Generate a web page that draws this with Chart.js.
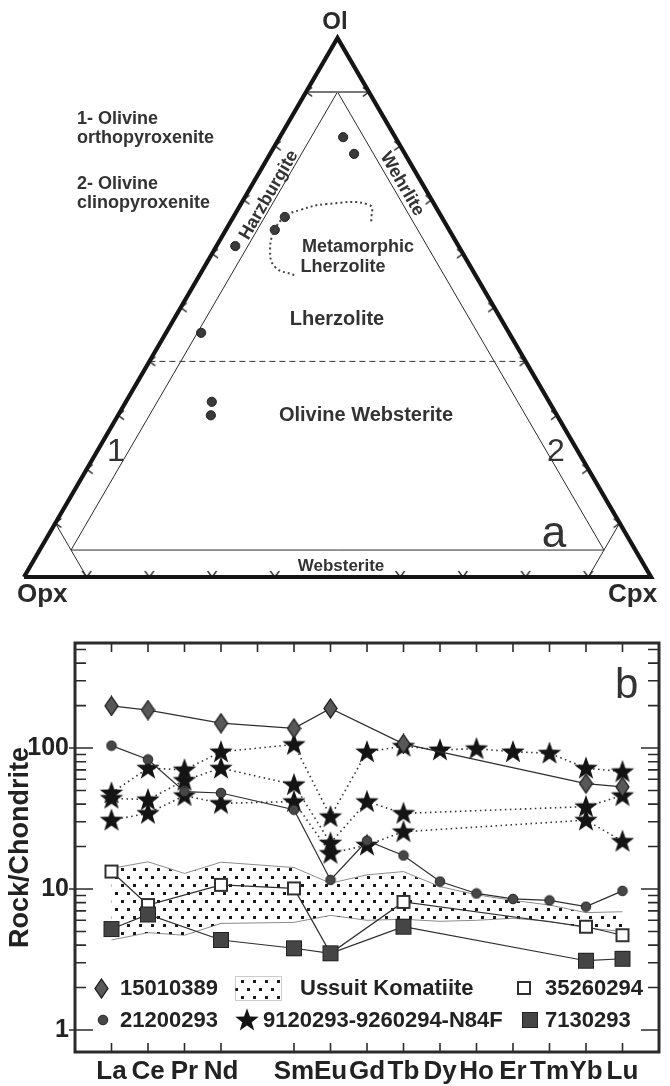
<!DOCTYPE html>
<html>
<head>
<meta charset="utf-8">
<title>Ol-Opx-Cpx and REE patterns</title>
<script src="https://cdn.jsdelivr.net/npm/chart.js@4.4.1/dist/chart.umd.min.js"></script>
<style>
  html, body { margin: 0; padding: 0; background: #fff; }
  #wrap { position: relative; width: 670px; height: 1086px; }
  #ternary { position: absolute; left: 0; top: 0; }
  #ree { position: absolute; left: 0; top: 610px; }
</style>
</head>
<body>
<div id="wrap">
  <canvas id="ternary" width="670" height="610"></canvas>
  <canvas id="ree" width="670" height="476"></canvas>
</div>
<script>
const FONT = "'Liberation Sans', Arial, Helvetica, sans-serif";
Chart.defaults.font.family = FONT;
Chart.defaults.color = '#222';

// ---- ternary (a): modal % Ol and Cpx, Opx is the rest ----
const sampleOl  = [81.6, 78.5, 66.8, 64.4, 61.4, 45.3, 32.5, 30.0];
const sampleCpx = [10.1, 13.4, 8.2, 7.8, 3.0, 5.6, 13.7, 14.8];
const metaLherzOl  = [66.0, 69.0, 69.2, 68.1, 66.8, 64.4, 60.7, 57.5, 56.0];
const metaLherzCpx = [22.4, 20.6, 13.7, 10.0, 8.2, 7.8, 8.9, 11.3, 15.1];
const sideTicks = [10, 20, 30, 40, 50, 60, 70, 80, 90];
const baseTicks = [10, 20, 30, 40, 60, 70, 80, 90];
// boundaries as [Ol, Cpx] pairs
const outline = [[0, 0], [0, 100], [100, 0], [0, 0]];
const duniteLine = [[90, 0], [90, 10]];
const fieldLines = [
  [[90, 5], [5, 5]],
  [[90, 5], [5, 90]],
  [[5, 5], [5, 90]],
  [[10, 0], [0, 10]],
  [[10, 90], [0, 90]]
];
const ol40Line = [[40, 0], [40, 60]];

// ---- REE (b): rock / chondrite ----
const elements   = ['La', 'Ce', 'Pr', 'Nd', 'Pm', 'Sm', 'Eu', 'Gd', 'Tb', 'Dy', 'Ho', 'Er', 'Tm', 'Yb', 'Lu'];
const tickLabels = ['La', 'Ce', 'Pr', 'Nd', '', 'Sm', 'Eu', 'Gd', 'Tb', 'Dy', 'Ho', 'Er', 'Tm', 'Yb', 'Lu'];
const yTickLabels = [1, 10, 100];
const s15010389 = [199, 186, null, 150, null, 138, 191, null, 107, null, null, null, null, 56, 53];
const s21200293 = [104, 83, 49, 48, null, 36.5, 11.6, 22, 17.3, 11.3, 9.3, 8.5, 8.3, 7.5, 9.7];
const s9120293  = [48, 72, 70, 94, null, 106, 32.6, 94, 103, 97, 99, 94, 92, 72, 68];
const s9260294  = [44, 43, 59, 72, null, 55, 21.2, 41.7, 34.4, null, null, null, null, 38.4, 46];
const sN84F     = [30.8, 34.4, 46, 40.5, null, 41.7, 17.9, 20.5, 25.5, null, null, null, null, 30.8, 21.8];
const s35260294 = [13.3, 7.7, null, 10.7, null, 10.1, 3.5, null, 8.1, null, null, null, null, 5.4, 4.7];
const s7130293  = [5.2, 6.6, null, 4.35, null, 3.8, 3.5, null, 5.4, null, null, null, null, 3.1, 3.2];
const komUpper  = [14.0, 15.6, 12.9, 15.5, null, 14.2, 11.0, 12.6, 13.3, 10.4, 9.1, 8.3, 7.7, 6.8, 6.9];
const komLower  = [4.35, 4.9, 4.7, 5.7, null, 5.8, 6.5, 6.0, 6.1, 5.9, 6.0, 6.2, 5.9, 5.3, 5.0];
const legendNames = ['15010389', 'Ussuit Komatiite', '35260294', '21200293', '9120293-9260294-N84F', '7130293'];

// ---- marker images ----
function marker(w, h, paint) {
  const c = document.createElement('canvas');
  c.width = w;
  c.height = h;
  paint(c.getContext('2d'), w, h);
  return c;
}

const diamondImg = marker(15, 21, (g, w, h) => {
  g.beginPath();
  g.moveTo(w / 2, 1); g.lineTo(w - 1, h / 2); g.lineTo(w / 2, h - 1); g.lineTo(1, h / 2);
  g.closePath();
  g.fillStyle = '#585858'; g.fill();
  g.lineWidth = 1.3; g.strokeStyle = '#1c1c1c'; g.stroke();
});
const circleImg = marker(12, 12, (g) => {
  g.beginPath(); g.arc(6, 6, 4.8, 0, Math.PI * 2);
  g.fillStyle = '#474747'; g.fill();
  g.lineWidth = 1; g.strokeStyle = '#222'; g.stroke();
});
const starImg = marker(26, 26, (g) => {
  g.beginPath();
  for (let i = 0; i < 10; i++) {
    const r = i % 2 ? 5 : 12.3;
    const a = -Math.PI / 2 + i * Math.PI / 5;
    const px = 13 + r * Math.cos(a), py = 13.6 + r * Math.sin(a);
    if (i) g.lineTo(px, py); else g.moveTo(px, py);
  }
  g.closePath();
  g.fillStyle = '#141414'; g.fill();
});
const openSquareImg = marker(16, 16, (g) => {
  g.fillStyle = '#fff'; g.fillRect(1, 1, 14, 14);
  g.lineWidth = 2; g.strokeStyle = '#303030'; g.strokeRect(2, 2, 12, 12);
});
const filledSquareImg = marker(18, 18, (g) => {
  g.fillStyle = '#454545'; g.fillRect(1, 1, 16, 16);
  g.lineWidth = 1; g.strokeStyle = '#222'; g.strokeRect(1.5, 1.5, 15, 15);
});
const chevronImg = marker(18, 12, (g) => {
  g.beginPath(); g.moveTo(3, 1.5); g.lineTo(9, 6); g.lineTo(3, 10.5);
  g.lineWidth = 1.5; g.strokeStyle = '#1e1e1e'; g.stroke();
});
const dotTile = marker(12, 16, (g) => {
  g.fillStyle = '#1a1a1a';
  g.fillRect(1, 2, 3, 3);
  g.fillRect(7, 10, 3, 3);
});
const dotPattern = document.getElementById('ree').getContext('2d').createPattern(dotTile, 'repeat');

// ---- ternary chart ----
const tern = ([ol, cpx]) => ({ x: (cpx + ol / 2) / 100, y: ol / 100 });
const lineSet = (pairs, color, width, extra) => Object.assign({
  data: pairs.map(tern), showLine: true, pointRadius: 0, borderColor: color, borderWidth: width, clip: false
}, extra || {});

const ternaryText = {
  id: 'ternaryText',
  afterDraw(chart) {
    const { ctx } = chart;
    const put = (txt, x, y, font, align, rot) => {
      ctx.save();
      ctx.font = font;
      ctx.textAlign = align || 'center';
      ctx.textBaseline = 'middle';
      ctx.translate(x, y);
      if (rot) ctx.rotate(rot * Math.PI / 180);
      ctx.fillText(txt, 0, 0);
      ctx.restore();
    };
    ctx.save();
    ctx.fillStyle = '#2a2a2a';
    put('Ol', 335, 22, 'bold 24px ' + FONT);
    put('Opx', 17, 595, 'bold 26px ' + FONT, 'left');
    put('Cpx', 608, 595, 'bold 26px ' + FONT, 'left');
    ctx.fillStyle = '#333';
    put('1- Olivine', 77, 119, 'bold 18px ' + FONT, 'left');
    put('orthopyroxenite', 77, 138, 'bold 18px ' + FONT, 'left');
    put('2- Olivine', 77, 184, 'bold 18px ' + FONT, 'left');
    put('clinopyroxenite', 77, 203, 'bold 18px ' + FONT, 'left');
    put('Harzburgite', 269, 195, 'bold 18px ' + FONT, 'center', -59.9);
    put('Wehrlite', 402, 184, 'bold 18px ' + FONT, 'center', 59.9);
    put('Metamorphic', 358, 247, 'bold 18px ' + FONT);
    put('Lherzolite', 343, 267, 'bold 18px ' + FONT);
    put('Lherzolite', 337, 319, 'bold 20px ' + FONT);
    put('Olivine Websterite', 366, 415, 'bold 20px ' + FONT);
    put('Websterite', 341, 566, 'bold 17px ' + FONT);
    put('1', 116, 452, '32px ' + FONT);
    put('2', 556, 452, '32px ' + FONT);
    put('a', 554, 535, '44px ' + FONT);
    ctx.restore();
  }
};

new Chart(document.getElementById('ternary'), {
  type: 'scatter',
  data: {
    datasets: [
      lineSet(outline, '#151515', 4.2, { borderJoinStyle: 'miter' }),
      lineSet(duniteLine, '#777', 2),
      ...fieldLines.map(l => lineSet(l, '#2a2a2a', 1)),
      lineSet(ol40Line, '#333', 1, { borderDash: [6, 4] }),
      {
        data: metaLherzOl.map((o, i) => tern([o, metaLherzCpx[i]])),
        showLine: true, pointRadius: 0, borderColor: '#444', borderWidth: 2,
        borderDash: [2, 3], tension: 0.45, clip: false
      },
      {
        data: sideTicks.map(o => tern([o, 0])),
        pointStyle: chevronImg, pointRadius: 5, rotation: 180, clip: false
      },
      {
        data: sideTicks.map(o => tern([o, 100 - o])),
        pointStyle: chevronImg, pointRadius: 5, rotation: 0, clip: false
      },
      {
        data: baseTicks.map(c => tern([0, c])),
        pointStyle: chevronImg, pointRadius: 5, rotation: 90, clip: false
      },
      {
        data: sampleOl.map((o, i) => tern([o, sampleCpx[i]])),
        pointRadius: 4.6, backgroundColor: '#3a3a3a', borderColor: '#222', borderWidth: 1, clip: false
      }
    ]
  },
  options: {
    responsive: false,
    animation: false,
    events: [],
    layout: { padding: { left: 24, right: 19, top: 38, bottom: 33 } },
    plugins: { legend: { display: false }, tooltip: { enabled: false } },
    scales: {
      x: { type: 'linear', min: 0, max: 1, display: false },
      y: { type: 'linear', min: 0, max: 1, display: false }
    }
  },
  plugins: [ternaryText]
});

// ---- REE chart ----
const pts = arr => arr.map((v, i) => ({ x: i, y: v })).filter(p => p.y !== null);

const frameTicks = {
  id: 'frameTicks',
  afterDraw(chart) {
    const { ctx, chartArea: { left, right, top, bottom }, scales: { x, y } } = chart;
    ctx.save();
    ctx.strokeStyle = '#2b2b2b';
    ctx.lineWidth = 1.6;
    ctx.beginPath();
    x.ticks.forEach(t => {
      const px = x.getPixelForValue(t.value);
      ctx.moveTo(px, top); ctx.lineTo(px, top + 9);
      if (tickLabels[t.value]) { ctx.moveTo(px, bottom); ctx.lineTo(px, bottom - 9); }
    });
    y.ticks.forEach(t => {
      const v = t.value;
      if (v < 1) return;
      const m = v / Math.pow(10, Math.floor(Math.log10(v) + 1e-9));
      if (Math.abs(m - Math.round(m)) > 1e-6) return;
      const major = Math.round(m) === 1;
      const len = major ? 18 : 11;
      const py = y.getPixelForValue(v);
      ctx.moveTo(left - (major ? 6 : 0), py); ctx.lineTo(left + len, py);
      ctx.moveTo(right, py); ctx.lineTo(right - len, py);
    });
    ctx.stroke();
    ctx.lineWidth = 3;
    ctx.strokeRect(left, top, right - left, bottom - top);
    ctx.restore();
  }
};

const reeLegend = {
  id: 'reeLegend',
  afterDraw(chart) {
    const { ctx } = chart;
    const row1 = 378, row2 = 410;
    const img = (im, x, y) => ctx.drawImage(im, Math.round(x - im.width / 2), Math.round(y - im.height / 2));
    ctx.save();
    ctx.font = 'bold 22px ' + FONT;
    ctx.fillStyle = '#222';
    ctx.textBaseline = 'middle';
    img(diamondImg, 101, row1);
    ctx.fillText(legendNames[0], 120, row1 + 1);
    ctx.fillStyle = dotPattern;
    ctx.fillRect(235, row1 - 12, 46, 24);
    ctx.strokeStyle = '#999';
    ctx.lineWidth = 1;
    ctx.setLineDash([1, 1]);
    ctx.strokeRect(235.5, row1 - 11.5, 46, 24);
    ctx.setLineDash([]);
    ctx.fillStyle = '#222';
    ctx.fillText(legendNames[1], 300, row1 + 1);
    img(openSquareImg, 524, row1);
    ctx.fillText(legendNames[2], 545, row1 + 1);
    img(circleImg, 103, row2);
    ctx.fillText(legendNames[3], 120, row2 + 1);
    img(starImg, 247, row2);
    ctx.fillText(legendNames[4], 263, row2 + 1);
    img(filledSquareImg, 530, row2);
    ctx.fillText(legendNames[5], 545, row2 + 1);
    // panel letter
    ctx.font = '42px ' + FONT;
    ctx.textBaseline = 'alphabetic';
    ctx.fillStyle = '#333';
    ctx.fillText('b', 615, 88);
    ctx.restore();
  }
};

const series = (label, arr, img, order, extra) => Object.assign({
  label, data: pts(arr), borderColor: '#2e2e2e', borderWidth: 1.2,
  pointStyle: img, pointRadius: 8, order
}, extra || {});
const dotted = { borderDash: [1.5, 3.5], borderWidth: 1.6, borderColor: '#333' };

new Chart(document.getElementById('ree'), {
  type: 'line',
  data: {
    datasets: [
      { label: 'Ussuit Komatiite', data: pts(komUpper), borderColor: '#8c8c8c', borderWidth: 1,
        backgroundColor: dotPattern, fill: '+1', pointRadius: 0, order: 10 },
      { label: 'komatiite low', data: pts(komLower), borderColor: '#8c8c8c', borderWidth: 1,
        fill: false, pointRadius: 0, order: 10 },
      series('9120293', s9120293, starImg, 5, dotted),
      series('9260294', s9260294, starImg, 5, dotted),
      series('N84F', sN84F, starImg, 5, dotted),
      series('15010389', s15010389, diamondImg, 3),
      series('21200293', s21200293, circleImg, 2),
      series('35260294', s35260294, openSquareImg, 1),
      series('7130293', s7130293, filledSquareImg, 0)
    ]
  },
  options: {
    responsive: false,
    animation: false,
    events: [],
    layout: { padding: { left: 0, right: 11, top: 33, bottom: 0 } },
    plugins: { legend: { display: false }, tooltip: { enabled: false } },
    scales: {
      x: {
        type: 'linear',
        min: -1,
        max: 15,
        afterBuildTicks: (axis) => {
          axis.ticks = elements.map((e, i) => ({ value: i }));
        },
        afterFit: (axis) => {
          axis.height = 34;
        },
        grid: { display: false, drawTicks: false },
        border: { display: false },
        ticks: {
          autoSkip: false,
          maxRotation: 0,
          padding: 4,
          color: '#222',
          font: { size: 26, weight: 'bold' },
          callback: (v) => tickLabels[v] || ''
        }
      },
      y: {
        type: 'logarithmic',
        min: 0.698,
        max: 556,
        afterFit: (axis) => {
          axis.width = 75;
        },
        grid: { display: false, drawTicks: false },
        border: { display: false },
        title: {
          display: true,
          text: 'Rock/Chondrite',
          color: '#222',
          font: { size: 27, weight: 'bold' }
        },
        ticks: {
          autoSkip: false,
          padding: 6,
          color: '#222',
          font: { size: 25, weight: 'bold' },
          callback: (v) => yTickLabels.includes(v) ? String(v) : ''
        }
      }
    }
  },
  plugins: [frameTicks, reeLegend]
});
</script>
</body>
</html>
